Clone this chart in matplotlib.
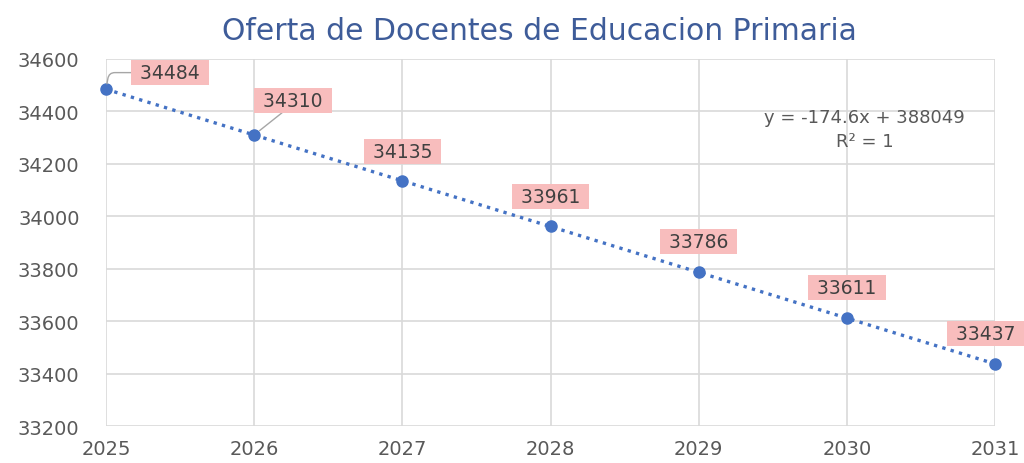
import numpy as np
import matplotlib.pyplot as plt

# data
years = [2025, 2026, 2027, 2028, 2029, 2030, 2031]
docentes = [34484, 34310, 34135, 33961, 33786, 33611, 33437]
yticks = [33200, 33400, 33600, 33800, 34000, 34200, 34400, 34600]
titulo = 'Oferta de Docentes de Educacion Primaria'
ecuacion = 'y = -174.6x + 388049\nR² = 1'

# label offsets in points (dx, dy) relative to each point
offsets = [(46, 12), (28, 25), (0, 21), (0, 21.5), (0, 22), (0, 22), (-7, 22)]

azul = '#4472C4'
gris = '#595959'

plt.rcParams['font.family'] = ['DejaVu Sans']

fig = plt.figure(figsize=(10.24, 4.64), dpi=100)
ax = fig.add_axes([0.1035, 0.0797, 0.8682, 0.7913])

# puntos
ax.plot(years, docentes, 'o', color=azul, markersize=8, zorder=4, clip_on=False)

# linea de tendencia
m, c = np.polyfit(years, docentes, 1)
xt = np.array([years[0], years[-1]])
ax.plot(xt, m * xt + c, linestyle=(0, (1, 1.6)), color=azul, lw=2.4, zorder=3)

# etiquetas
for i, (x, y, (dx, dy)) in enumerate(zip(years, docentes, offsets)):
    con = None
    if i == 0:
        con = dict(arrowstyle='-', color='#A6A6A6', lw=1, shrinkA=0, shrinkB=4,
                   connectionstyle='angle,angleA=0,angleB=80,rad=6',
                   relpos=(0, 0.5))
    elif i == 1:
        con = dict(arrowstyle='-', color='#A6A6A6', lw=1, shrinkA=0, shrinkB=5,
                   relpos=(0.4, 0))
    ax.annotate(' %d ' % y, (x, y), xytext=(dx, dy), textcoords='offset points',
                ha='center', va='center', fontsize=13.5, color='#404040',
                bbox=dict(boxstyle='square,pad=0.16', fc='#F8BDBD', ec='none'),
                arrowprops=con, zorder=5, annotation_clip=False)

ax.text(2030.12, 34332, ecuacion, ha='center', va='center', fontsize=13,
        color=gris, linespacing=1.4)

ax.set_xlim(2025, 2031)
ax.set_ylim(33200, 34600)
ax.set_yticks(yticks)
ax.set_xticks(years)
ax.grid(True, color='#D9D9D9', lw=1.2)
ax.set_axisbelow(True)
for s in ax.spines.values():
    s.set_visible(False)
ax.tick_params(axis='y', length=0, labelsize=14, colors=gris, pad=19)
ax.tick_params(axis='x', length=0, labelsize=14, colors=gris, pad=9)

fig.text(0.527, 0.933, titulo, ha='center', va='center', fontsize=21.5,
         color='#3E5C99')

fig.savefig('out.png', dpi=100)
